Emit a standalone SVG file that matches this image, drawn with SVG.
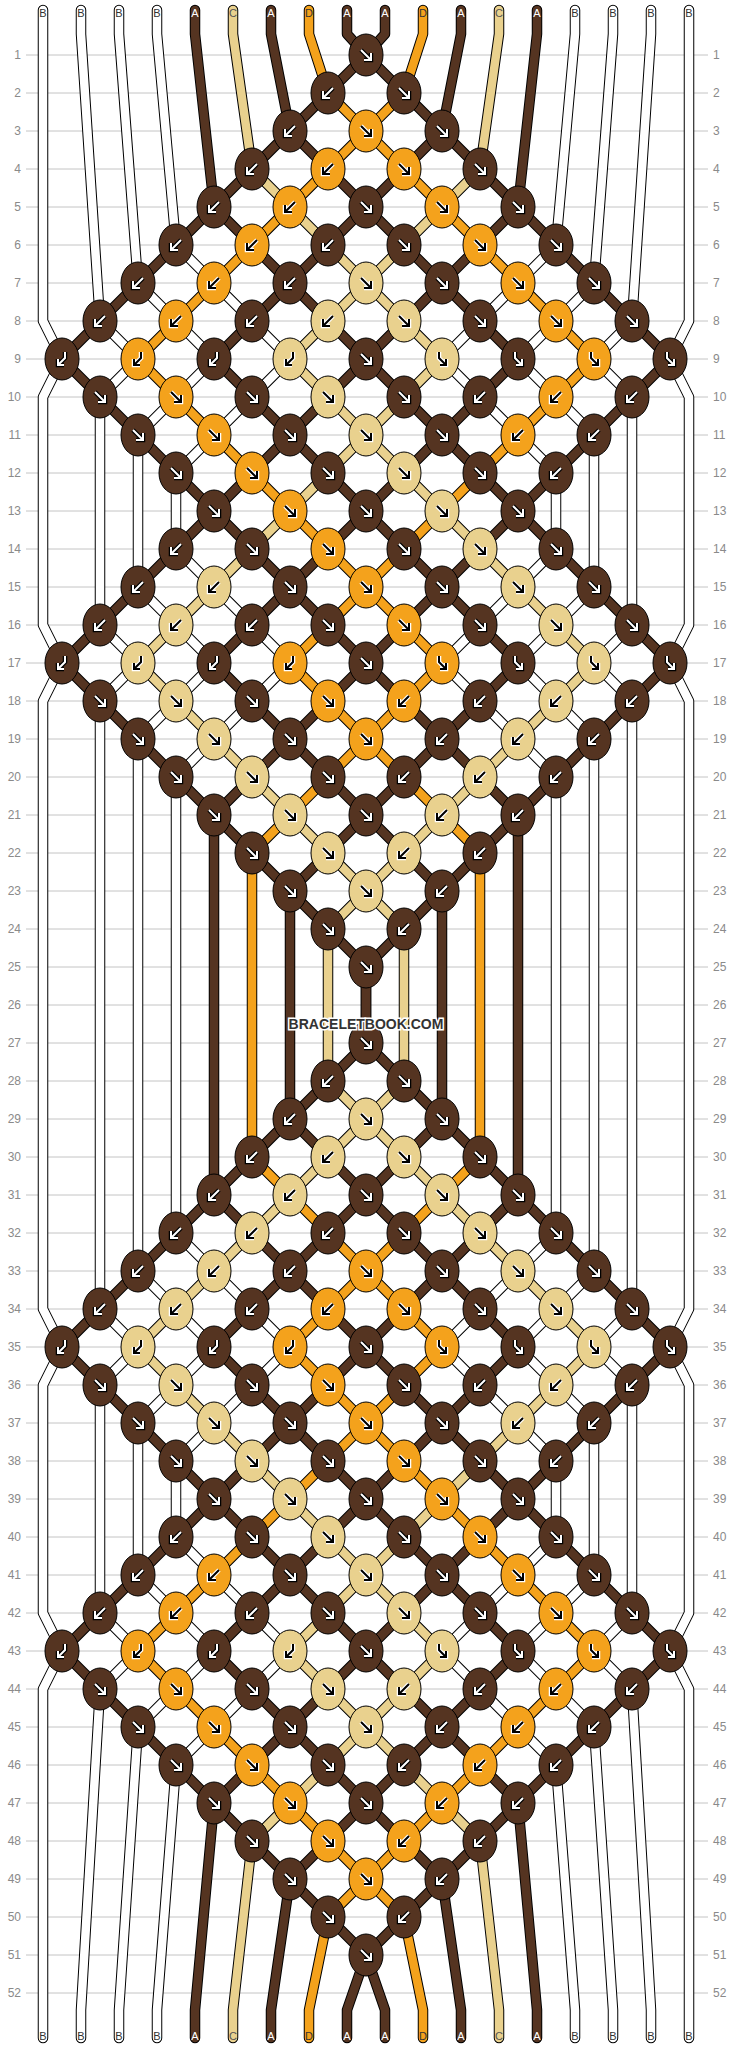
<svg xmlns="http://www.w3.org/2000/svg" width="734" height="2048" viewBox="0 0 734 2048">
<style>
.bg{fill:#fff}
.grid{stroke:#c4c4c4;stroke-width:1;fill:none}
.rl{font-family:"Liberation Sans",Arial,sans-serif;font-size:12px;fill:#8a8a8a}
.o{stroke:#000;stroke-width:10.5;fill:none}
.cA{stroke:#553421;stroke-width:8.5;fill:none}
.cB{stroke:#fff;stroke-width:8.5;fill:none}
.cC{stroke:#e9d18e;stroke-width:8.5;fill:none}
.cD{stroke:#f4a21c;stroke-width:8.5;fill:none}
.kA{fill:#553421;stroke:#000;stroke-width:1}
.kC{fill:#e9d18e;stroke:#000;stroke-width:1}
.kD{fill:#f4a21c;stroke:#000;stroke-width:1}
.od{fill:none;stroke:#000;stroke-width:4.5}
.id{fill:none;stroke:#fff;stroke-width:2}
.ol{fill:none;stroke:#fff;stroke-width:4.5}
.il{fill:none;stroke:#000;stroke-width:2}
.lb{font-family:"Liberation Sans",Arial,sans-serif;font-size:11px;text-anchor:middle}
.lA{fill:#fff}.lB{fill:#333}.lC{fill:#555}.lD{fill:#333}
.wm{font-family:"Liberation Sans",Arial,sans-serif;font-size:14px;font-weight:bold;fill:#333;stroke:#fff;stroke-width:3;paint-order:stroke;text-anchor:middle}
</style>
<defs>
<path id="pF" d="M-5-5L4 4M-2 5H5V-2"/>
<path id="pB" d="M5-5L-4 4M2 5H-5V-2"/>
<path id="pL" d="M3-7V-1L-4 6M-4 0V6H2"/>
<path id="pR" d="M-3-7V-1L4 6M4 0V6H-2"/>
<g id="AF"><ellipse class="kA" rx="17" ry="21"/><use href="#pF" class="od"/><use href="#pF" class="id"/></g>
<g id="AB"><ellipse class="kA" rx="17" ry="21"/><use href="#pB" class="od"/><use href="#pB" class="id"/></g>
<g id="AL"><ellipse class="kA" rx="17" ry="21"/><use href="#pL" class="od"/><use href="#pL" class="id"/></g>
<g id="AR"><ellipse class="kA" rx="17" ry="21"/><use href="#pR" class="od"/><use href="#pR" class="id"/></g>
<g id="CF"><ellipse class="kC" rx="17" ry="21"/><use href="#pF" class="ol"/><use href="#pF" class="il"/></g>
<g id="CB"><ellipse class="kC" rx="17" ry="21"/><use href="#pB" class="ol"/><use href="#pB" class="il"/></g>
<g id="CL"><ellipse class="kC" rx="17" ry="21"/><use href="#pL" class="ol"/><use href="#pL" class="il"/></g>
<g id="CR"><ellipse class="kC" rx="17" ry="21"/><use href="#pR" class="ol"/><use href="#pR" class="il"/></g>
<g id="DF"><ellipse class="kD" rx="17" ry="21"/><use href="#pF" class="ol"/><use href="#pF" class="il"/></g>
<g id="DB"><ellipse class="kD" rx="17" ry="21"/><use href="#pB" class="ol"/><use href="#pB" class="il"/></g>
<g id="DL"><ellipse class="kD" rx="17" ry="21"/><use href="#pL" class="ol"/><use href="#pL" class="il"/></g>
<g id="DR"><ellipse class="kD" rx="17" ry="21"/><use href="#pR" class="ol"/><use href="#pR" class="il"/></g>
<path id="s0" d="M43 10V321L62 359L43 397V625L62 663L43 701V1309L62 1347L43 1385V1613L62 1651L43 1689V2038"/>
<path id="s1" d="M81 10V34L100 321L138 359L100 397V625L138 663L100 701V1309L138 1347L100 1385V1613L138 1651L100 1689L81 2010V2038"/>
<path id="s2" d="M119 10V34L138 283L214 359L138 435V587L214 663L138 739V1271L214 1347L138 1423V1575L214 1651L138 1727L119 2010V2038"/>
<path id="s3" d="M157 10V34L176 245L290 359L176 473V549L290 663L176 777V1233L290 1347L176 1461V1537L290 1651L176 1765L157 2010V2038"/>
<path id="s4" d="M195 10V34L214 207L670 663L366 967V1043L670 1347L214 1803L195 2010V2038"/>
<path id="s5" d="M233 10V34L252 169L442 359L138 663L404 929V1081L138 1347L442 1651L252 1841L233 2010V2038"/>
<path id="s6" d="M271 10V34L290 131L518 359L214 663L442 891V1119L214 1347L518 1651L290 1879L271 2010V2038"/>
<path id="s7" d="M309 10V34L328 93L594 359L290 663L480 853V1157L290 1347L594 1651L328 1917L309 2010V2038"/>
<path id="s8" d="M347 10V34L366 55L670 359L214 815V1195L670 1651L366 1955L347 2010V2038"/>
<path id="s9" d="M385 10V34L366 55L62 359L518 815V1195L62 1651L366 1955L385 2010V2038"/>
<path id="s10" d="M423 10V34L404 93L138 359L442 663L252 853V1157L442 1347L138 1651L404 1917L423 2010V2038"/>
<path id="s11" d="M461 10V34L442 131L214 359L518 663L290 891V1119L518 1347L214 1651L442 1879L461 2010V2038"/>
<path id="s12" d="M499 10V34L480 169L290 359L594 663L328 929V1081L594 1347L290 1651L480 1841L499 2010V2038"/>
<path id="s13" d="M537 10V34L518 207L62 663L366 967V1043L62 1347L518 1803L537 2010V2038"/>
<path id="s14" d="M575 10V34L556 245L442 359L556 473V549L442 663L556 777V1233L442 1347L556 1461V1537L442 1651L556 1765L575 2010V2038"/>
<path id="s15" d="M613 10V34L594 283L518 359L594 435V587L518 663L594 739V1271L518 1347L594 1423V1575L518 1651L594 1727L613 2010V2038"/>
<path id="s16" d="M651 10V34L632 321L594 359L632 397V625L594 663L632 701V1309L594 1347L632 1385V1613L594 1651L632 1689L651 2010V2038"/>
<path id="s17" d="M689 10V321L670 359L689 397V625L670 663L689 701V1309L670 1347L689 1385V1613L670 1651L689 1689V2038"/>
</defs>
<rect class="bg" width="734" height="2048"/>
<path class="grid" d="M26 55H708M26 93H708M26 131H708M26 169H708M26 207H708M26 245H708M26 283H708M26 321H708M26 359H708M26 397H708M26 435H708M26 473H708M26 511H708M26 549H708M26 587H708M26 625H708M26 663H708M26 701H708M26 739H708M26 777H708M26 815H708M26 853H708M26 891H708M26 929H708M26 967H708M26 1005H708M26 1043H708M26 1081H708M26 1119H708M26 1157H708M26 1195H708M26 1233H708M26 1271H708M26 1309H708M26 1347H708M26 1385H708M26 1423H708M26 1461H708M26 1499H708M26 1537H708M26 1575H708M26 1613H708M26 1651H708M26 1689H708M26 1727H708M26 1765H708M26 1803H708M26 1841H708M26 1879H708M26 1917H708M26 1955H708M26 1993H708"/>
<g id="row-labels-left" class="rl" text-anchor="end">
<text x="21" y="59">1</text><text x="21" y="97">2</text><text x="21" y="135">3</text><text x="21" y="173">4</text><text x="21" y="211">5</text><text x="21" y="249">6</text><text x="21" y="287">7</text><text x="21" y="325">8</text><text x="21" y="363">9</text><text x="21" y="401">10</text><text x="21" y="439">11</text><text x="21" y="477">12</text><text x="21" y="515">13</text><text x="21" y="553">14</text><text x="21" y="591">15</text><text x="21" y="629">16</text><text x="21" y="667">17</text><text x="21" y="705">18</text><text x="21" y="743">19</text><text x="21" y="781">20</text><text x="21" y="819">21</text><text x="21" y="857">22</text><text x="21" y="895">23</text><text x="21" y="933">24</text><text x="21" y="971">25</text><text x="21" y="1009">26</text><text x="21" y="1047">27</text><text x="21" y="1085">28</text><text x="21" y="1123">29</text><text x="21" y="1161">30</text><text x="21" y="1199">31</text><text x="21" y="1237">32</text><text x="21" y="1275">33</text><text x="21" y="1313">34</text><text x="21" y="1351">35</text><text x="21" y="1389">36</text><text x="21" y="1427">37</text><text x="21" y="1465">38</text><text x="21" y="1503">39</text><text x="21" y="1541">40</text><text x="21" y="1579">41</text><text x="21" y="1617">42</text><text x="21" y="1655">43</text><text x="21" y="1693">44</text><text x="21" y="1731">45</text><text x="21" y="1769">46</text><text x="21" y="1807">47</text><text x="21" y="1845">48</text><text x="21" y="1883">49</text><text x="21" y="1921">50</text><text x="21" y="1959">51</text><text x="21" y="1997">52</text>
</g>
<g id="row-labels-right" class="rl" text-anchor="start">
<text x="713" y="59">1</text><text x="713" y="97">2</text><text x="713" y="135">3</text><text x="713" y="173">4</text><text x="713" y="211">5</text><text x="713" y="249">6</text><text x="713" y="287">7</text><text x="713" y="325">8</text><text x="713" y="363">9</text><text x="713" y="401">10</text><text x="713" y="439">11</text><text x="713" y="477">12</text><text x="713" y="515">13</text><text x="713" y="553">14</text><text x="713" y="591">15</text><text x="713" y="629">16</text><text x="713" y="667">17</text><text x="713" y="705">18</text><text x="713" y="743">19</text><text x="713" y="781">20</text><text x="713" y="819">21</text><text x="713" y="857">22</text><text x="713" y="895">23</text><text x="713" y="933">24</text><text x="713" y="971">25</text><text x="713" y="1009">26</text><text x="713" y="1047">27</text><text x="713" y="1085">28</text><text x="713" y="1123">29</text><text x="713" y="1161">30</text><text x="713" y="1199">31</text><text x="713" y="1237">32</text><text x="713" y="1275">33</text><text x="713" y="1313">34</text><text x="713" y="1351">35</text><text x="713" y="1389">36</text><text x="713" y="1427">37</text><text x="713" y="1465">38</text><text x="713" y="1503">39</text><text x="713" y="1541">40</text><text x="713" y="1579">41</text><text x="713" y="1617">42</text><text x="713" y="1655">43</text><text x="713" y="1693">44</text><text x="713" y="1731">45</text><text x="713" y="1769">46</text><text x="713" y="1807">47</text><text x="713" y="1845">48</text><text x="713" y="1883">49</text><text x="713" y="1921">50</text><text x="713" y="1959">51</text><text x="713" y="1997">52</text>
</g>
<g id="connectors" stroke-linejoin="round" stroke-linecap="round">
<use href="#s0" class="o"/><use href="#s1" class="o"/><use href="#s2" class="o"/><use href="#s3" class="o"/><use href="#s4" class="o"/><use href="#s5" class="o"/><use href="#s6" class="o"/><use href="#s7" class="o"/><use href="#s8" class="o"/><use href="#s9" class="o"/><use href="#s10" class="o"/><use href="#s11" class="o"/><use href="#s12" class="o"/><use href="#s13" class="o"/><use href="#s14" class="o"/><use href="#s15" class="o"/><use href="#s16" class="o"/><use href="#s17" class="o"/>
<use href="#s0" class="cB"/><use href="#s1" class="cB"/><use href="#s2" class="cB"/><use href="#s3" class="cB"/><use href="#s4" class="cA"/><use href="#s5" class="cC"/><use href="#s6" class="cA"/><use href="#s7" class="cD"/><use href="#s8" class="cA"/><use href="#s9" class="cA"/><use href="#s10" class="cD"/><use href="#s11" class="cA"/><use href="#s12" class="cC"/><use href="#s13" class="cA"/><use href="#s14" class="cB"/><use href="#s15" class="cB"/><use href="#s16" class="cB"/><use href="#s17" class="cB"/>
</g>
<g id="string-labels" class="lb">
<text class="lB" x="43" y="17">B</text><text class="lB" x="81" y="17">B</text><text class="lB" x="119" y="17">B</text><text class="lB" x="157" y="17">B</text><text class="lA" x="195" y="17">A</text><text class="lC" x="233" y="17">C</text><text class="lA" x="271" y="17">A</text><text class="lD" x="309" y="17">D</text><text class="lA" x="347" y="17">A</text><text class="lA" x="385" y="17">A</text><text class="lD" x="423" y="17">D</text><text class="lA" x="461" y="17">A</text><text class="lC" x="499" y="17">C</text><text class="lA" x="537" y="17">A</text><text class="lB" x="575" y="17">B</text><text class="lB" x="613" y="17">B</text><text class="lB" x="651" y="17">B</text><text class="lB" x="689" y="17">B</text>
<text class="lB" x="43" y="2040">B</text><text class="lB" x="81" y="2040">B</text><text class="lB" x="119" y="2040">B</text><text class="lB" x="157" y="2040">B</text><text class="lA" x="195" y="2040">A</text><text class="lC" x="233" y="2040">C</text><text class="lA" x="271" y="2040">A</text><text class="lD" x="309" y="2040">D</text><text class="lA" x="347" y="2040">A</text><text class="lA" x="385" y="2040">A</text><text class="lD" x="423" y="2040">D</text><text class="lA" x="461" y="2040">A</text><text class="lC" x="499" y="2040">C</text><text class="lA" x="537" y="2040">A</text><text class="lB" x="575" y="2040">B</text><text class="lB" x="613" y="2040">B</text><text class="lB" x="651" y="2040">B</text><text class="lB" x="689" y="2040">B</text>
</g>
<g id="knots">
<g id="k1-8"><use href="#AF" x="366" y="55"/></g>
<g id="k2-7"><use href="#AB" x="328" y="93"/></g><g id="k2-9"><use href="#AF" x="404" y="93"/></g>
<g id="k3-6"><use href="#AB" x="290" y="131"/></g><g id="k3-8"><use href="#DF" x="366" y="131"/></g><g id="k3-10"><use href="#AF" x="442" y="131"/></g>
<g id="k4-5"><use href="#AB" x="252" y="169"/></g><g id="k4-7"><use href="#DB" x="328" y="169"/></g><g id="k4-9"><use href="#DF" x="404" y="169"/></g><g id="k4-11"><use href="#AF" x="480" y="169"/></g>
<g id="k5-4"><use href="#AB" x="214" y="207"/></g><g id="k5-6"><use href="#DB" x="290" y="207"/></g><g id="k5-8"><use href="#AF" x="366" y="207"/></g><g id="k5-10"><use href="#DF" x="442" y="207"/></g><g id="k5-12"><use href="#AF" x="518" y="207"/></g>
<g id="k6-3"><use href="#AB" x="176" y="245"/></g><g id="k6-5"><use href="#DB" x="252" y="245"/></g><g id="k6-7"><use href="#AB" x="328" y="245"/></g><g id="k6-9"><use href="#AF" x="404" y="245"/></g><g id="k6-11"><use href="#DF" x="480" y="245"/></g><g id="k6-13"><use href="#AF" x="556" y="245"/></g>
<g id="k7-2"><use href="#AB" x="138" y="283"/></g><g id="k7-4"><use href="#DB" x="214" y="283"/></g><g id="k7-6"><use href="#AB" x="290" y="283"/></g><g id="k7-8"><use href="#CF" x="366" y="283"/></g><g id="k7-10"><use href="#AF" x="442" y="283"/></g><g id="k7-12"><use href="#DF" x="518" y="283"/></g><g id="k7-14"><use href="#AF" x="594" y="283"/></g>
<g id="k8-1"><use href="#AB" x="100" y="321"/></g><g id="k8-3"><use href="#DB" x="176" y="321"/></g><g id="k8-5"><use href="#AB" x="252" y="321"/></g><g id="k8-7"><use href="#CB" x="328" y="321"/></g><g id="k8-9"><use href="#CF" x="404" y="321"/></g><g id="k8-11"><use href="#AF" x="480" y="321"/></g><g id="k8-13"><use href="#DF" x="556" y="321"/></g><g id="k8-15"><use href="#AF" x="632" y="321"/></g>
<g id="k9-0"><use href="#AL" x="62" y="359"/></g><g id="k9-2"><use href="#DL" x="138" y="359"/></g><g id="k9-4"><use href="#AL" x="214" y="359"/></g><g id="k9-6"><use href="#CL" x="290" y="359"/></g><g id="k9-8"><use href="#AF" x="366" y="359"/></g><g id="k9-10"><use href="#CR" x="442" y="359"/></g><g id="k9-12"><use href="#AR" x="518" y="359"/></g><g id="k9-14"><use href="#DR" x="594" y="359"/></g><g id="k9-16"><use href="#AR" x="670" y="359"/></g>
<g id="k10-1"><use href="#AF" x="100" y="397"/></g><g id="k10-3"><use href="#DF" x="176" y="397"/></g><g id="k10-5"><use href="#AF" x="252" y="397"/></g><g id="k10-7"><use href="#CF" x="328" y="397"/></g><g id="k10-9"><use href="#AF" x="404" y="397"/></g><g id="k10-11"><use href="#AB" x="480" y="397"/></g><g id="k10-13"><use href="#DB" x="556" y="397"/></g><g id="k10-15"><use href="#AB" x="632" y="397"/></g>
<g id="k11-2"><use href="#AF" x="138" y="435"/></g><g id="k11-4"><use href="#DF" x="214" y="435"/></g><g id="k11-6"><use href="#AF" x="290" y="435"/></g><g id="k11-8"><use href="#CF" x="366" y="435"/></g><g id="k11-10"><use href="#AF" x="442" y="435"/></g><g id="k11-12"><use href="#DB" x="518" y="435"/></g><g id="k11-14"><use href="#AB" x="594" y="435"/></g>
<g id="k12-3"><use href="#AF" x="176" y="473"/></g><g id="k12-5"><use href="#DF" x="252" y="473"/></g><g id="k12-7"><use href="#AF" x="328" y="473"/></g><g id="k12-9"><use href="#CF" x="404" y="473"/></g><g id="k12-11"><use href="#AF" x="480" y="473"/></g><g id="k12-13"><use href="#AB" x="556" y="473"/></g>
<g id="k13-4"><use href="#AF" x="214" y="511"/></g><g id="k13-6"><use href="#DF" x="290" y="511"/></g><g id="k13-8"><use href="#AF" x="366" y="511"/></g><g id="k13-10"><use href="#CF" x="442" y="511"/></g><g id="k13-12"><use href="#AF" x="518" y="511"/></g>
<g id="k14-3"><use href="#AB" x="176" y="549"/></g><g id="k14-5"><use href="#AF" x="252" y="549"/></g><g id="k14-7"><use href="#DF" x="328" y="549"/></g><g id="k14-9"><use href="#AF" x="404" y="549"/></g><g id="k14-11"><use href="#CF" x="480" y="549"/></g><g id="k14-13"><use href="#AF" x="556" y="549"/></g>
<g id="k15-2"><use href="#AB" x="138" y="587"/></g><g id="k15-4"><use href="#CB" x="214" y="587"/></g><g id="k15-6"><use href="#AF" x="290" y="587"/></g><g id="k15-8"><use href="#DF" x="366" y="587"/></g><g id="k15-10"><use href="#AF" x="442" y="587"/></g><g id="k15-12"><use href="#CF" x="518" y="587"/></g><g id="k15-14"><use href="#AF" x="594" y="587"/></g>
<g id="k16-1"><use href="#AB" x="100" y="625"/></g><g id="k16-3"><use href="#CB" x="176" y="625"/></g><g id="k16-5"><use href="#AB" x="252" y="625"/></g><g id="k16-7"><use href="#AF" x="328" y="625"/></g><g id="k16-9"><use href="#DF" x="404" y="625"/></g><g id="k16-11"><use href="#AF" x="480" y="625"/></g><g id="k16-13"><use href="#CF" x="556" y="625"/></g><g id="k16-15"><use href="#AF" x="632" y="625"/></g>
<g id="k17-0"><use href="#AL" x="62" y="663"/></g><g id="k17-2"><use href="#CL" x="138" y="663"/></g><g id="k17-4"><use href="#AL" x="214" y="663"/></g><g id="k17-6"><use href="#DL" x="290" y="663"/></g><g id="k17-8"><use href="#AF" x="366" y="663"/></g><g id="k17-10"><use href="#DR" x="442" y="663"/></g><g id="k17-12"><use href="#AR" x="518" y="663"/></g><g id="k17-14"><use href="#CR" x="594" y="663"/></g><g id="k17-16"><use href="#AR" x="670" y="663"/></g>
<g id="k18-1"><use href="#AF" x="100" y="701"/></g><g id="k18-3"><use href="#CF" x="176" y="701"/></g><g id="k18-5"><use href="#AF" x="252" y="701"/></g><g id="k18-7"><use href="#DF" x="328" y="701"/></g><g id="k18-9"><use href="#DB" x="404" y="701"/></g><g id="k18-11"><use href="#AB" x="480" y="701"/></g><g id="k18-13"><use href="#CB" x="556" y="701"/></g><g id="k18-15"><use href="#AB" x="632" y="701"/></g>
<g id="k19-2"><use href="#AF" x="138" y="739"/></g><g id="k19-4"><use href="#CF" x="214" y="739"/></g><g id="k19-6"><use href="#AF" x="290" y="739"/></g><g id="k19-8"><use href="#DF" x="366" y="739"/></g><g id="k19-10"><use href="#AB" x="442" y="739"/></g><g id="k19-12"><use href="#CB" x="518" y="739"/></g><g id="k19-14"><use href="#AB" x="594" y="739"/></g>
<g id="k20-3"><use href="#AF" x="176" y="777"/></g><g id="k20-5"><use href="#CF" x="252" y="777"/></g><g id="k20-7"><use href="#AF" x="328" y="777"/></g><g id="k20-9"><use href="#AB" x="404" y="777"/></g><g id="k20-11"><use href="#CB" x="480" y="777"/></g><g id="k20-13"><use href="#AB" x="556" y="777"/></g>
<g id="k21-4"><use href="#AF" x="214" y="815"/></g><g id="k21-6"><use href="#CF" x="290" y="815"/></g><g id="k21-8"><use href="#AF" x="366" y="815"/></g><g id="k21-10"><use href="#CB" x="442" y="815"/></g><g id="k21-12"><use href="#AB" x="518" y="815"/></g>
<g id="k22-5"><use href="#AF" x="252" y="853"/></g><g id="k22-7"><use href="#CF" x="328" y="853"/></g><g id="k22-9"><use href="#CB" x="404" y="853"/></g><g id="k22-11"><use href="#AB" x="480" y="853"/></g>
<g id="k23-6"><use href="#AF" x="290" y="891"/></g><g id="k23-8"><use href="#CF" x="366" y="891"/></g><g id="k23-10"><use href="#AB" x="442" y="891"/></g>
<g id="k24-7"><use href="#AF" x="328" y="929"/></g><g id="k24-9"><use href="#AB" x="404" y="929"/></g>
<g id="k25-8"><use href="#AF" x="366" y="967"/></g>
<g id="k27-8"><use href="#AF" x="366" y="1043"/></g>
<g id="k28-7"><use href="#AB" x="328" y="1081"/></g><g id="k28-9"><use href="#AF" x="404" y="1081"/></g>
<g id="k29-6"><use href="#AB" x="290" y="1119"/></g><g id="k29-8"><use href="#CF" x="366" y="1119"/></g><g id="k29-10"><use href="#AF" x="442" y="1119"/></g>
<g id="k30-5"><use href="#AB" x="252" y="1157"/></g><g id="k30-7"><use href="#CB" x="328" y="1157"/></g><g id="k30-9"><use href="#CF" x="404" y="1157"/></g><g id="k30-11"><use href="#AF" x="480" y="1157"/></g>
<g id="k31-4"><use href="#AB" x="214" y="1195"/></g><g id="k31-6"><use href="#CB" x="290" y="1195"/></g><g id="k31-8"><use href="#AF" x="366" y="1195"/></g><g id="k31-10"><use href="#CF" x="442" y="1195"/></g><g id="k31-12"><use href="#AF" x="518" y="1195"/></g>
<g id="k32-3"><use href="#AB" x="176" y="1233"/></g><g id="k32-5"><use href="#CB" x="252" y="1233"/></g><g id="k32-7"><use href="#AB" x="328" y="1233"/></g><g id="k32-9"><use href="#AF" x="404" y="1233"/></g><g id="k32-11"><use href="#CF" x="480" y="1233"/></g><g id="k32-13"><use href="#AF" x="556" y="1233"/></g>
<g id="k33-2"><use href="#AB" x="138" y="1271"/></g><g id="k33-4"><use href="#CB" x="214" y="1271"/></g><g id="k33-6"><use href="#AB" x="290" y="1271"/></g><g id="k33-8"><use href="#DF" x="366" y="1271"/></g><g id="k33-10"><use href="#AF" x="442" y="1271"/></g><g id="k33-12"><use href="#CF" x="518" y="1271"/></g><g id="k33-14"><use href="#AF" x="594" y="1271"/></g>
<g id="k34-1"><use href="#AB" x="100" y="1309"/></g><g id="k34-3"><use href="#CB" x="176" y="1309"/></g><g id="k34-5"><use href="#AB" x="252" y="1309"/></g><g id="k34-7"><use href="#DB" x="328" y="1309"/></g><g id="k34-9"><use href="#DF" x="404" y="1309"/></g><g id="k34-11"><use href="#AF" x="480" y="1309"/></g><g id="k34-13"><use href="#CF" x="556" y="1309"/></g><g id="k34-15"><use href="#AF" x="632" y="1309"/></g>
<g id="k35-0"><use href="#AL" x="62" y="1347"/></g><g id="k35-2"><use href="#CL" x="138" y="1347"/></g><g id="k35-4"><use href="#AL" x="214" y="1347"/></g><g id="k35-6"><use href="#DL" x="290" y="1347"/></g><g id="k35-8"><use href="#AF" x="366" y="1347"/></g><g id="k35-10"><use href="#DR" x="442" y="1347"/></g><g id="k35-12"><use href="#AR" x="518" y="1347"/></g><g id="k35-14"><use href="#CR" x="594" y="1347"/></g><g id="k35-16"><use href="#AR" x="670" y="1347"/></g>
<g id="k36-1"><use href="#AF" x="100" y="1385"/></g><g id="k36-3"><use href="#CF" x="176" y="1385"/></g><g id="k36-5"><use href="#AF" x="252" y="1385"/></g><g id="k36-7"><use href="#DF" x="328" y="1385"/></g><g id="k36-9"><use href="#AF" x="404" y="1385"/></g><g id="k36-11"><use href="#AB" x="480" y="1385"/></g><g id="k36-13"><use href="#CB" x="556" y="1385"/></g><g id="k36-15"><use href="#AB" x="632" y="1385"/></g>
<g id="k37-2"><use href="#AF" x="138" y="1423"/></g><g id="k37-4"><use href="#CF" x="214" y="1423"/></g><g id="k37-6"><use href="#AF" x="290" y="1423"/></g><g id="k37-8"><use href="#DF" x="366" y="1423"/></g><g id="k37-10"><use href="#AF" x="442" y="1423"/></g><g id="k37-12"><use href="#CB" x="518" y="1423"/></g><g id="k37-14"><use href="#AB" x="594" y="1423"/></g>
<g id="k38-3"><use href="#AF" x="176" y="1461"/></g><g id="k38-5"><use href="#CF" x="252" y="1461"/></g><g id="k38-7"><use href="#AF" x="328" y="1461"/></g><g id="k38-9"><use href="#DF" x="404" y="1461"/></g><g id="k38-11"><use href="#AF" x="480" y="1461"/></g><g id="k38-13"><use href="#AB" x="556" y="1461"/></g>
<g id="k39-4"><use href="#AF" x="214" y="1499"/></g><g id="k39-6"><use href="#CF" x="290" y="1499"/></g><g id="k39-8"><use href="#AF" x="366" y="1499"/></g><g id="k39-10"><use href="#DF" x="442" y="1499"/></g><g id="k39-12"><use href="#AF" x="518" y="1499"/></g>
<g id="k40-3"><use href="#AB" x="176" y="1537"/></g><g id="k40-5"><use href="#AF" x="252" y="1537"/></g><g id="k40-7"><use href="#CF" x="328" y="1537"/></g><g id="k40-9"><use href="#AF" x="404" y="1537"/></g><g id="k40-11"><use href="#DF" x="480" y="1537"/></g><g id="k40-13"><use href="#AF" x="556" y="1537"/></g>
<g id="k41-2"><use href="#AB" x="138" y="1575"/></g><g id="k41-4"><use href="#DB" x="214" y="1575"/></g><g id="k41-6"><use href="#AF" x="290" y="1575"/></g><g id="k41-8"><use href="#CF" x="366" y="1575"/></g><g id="k41-10"><use href="#AF" x="442" y="1575"/></g><g id="k41-12"><use href="#DF" x="518" y="1575"/></g><g id="k41-14"><use href="#AF" x="594" y="1575"/></g>
<g id="k42-1"><use href="#AB" x="100" y="1613"/></g><g id="k42-3"><use href="#DB" x="176" y="1613"/></g><g id="k42-5"><use href="#AB" x="252" y="1613"/></g><g id="k42-7"><use href="#AF" x="328" y="1613"/></g><g id="k42-9"><use href="#CF" x="404" y="1613"/></g><g id="k42-11"><use href="#AF" x="480" y="1613"/></g><g id="k42-13"><use href="#DF" x="556" y="1613"/></g><g id="k42-15"><use href="#AF" x="632" y="1613"/></g>
<g id="k43-0"><use href="#AL" x="62" y="1651"/></g><g id="k43-2"><use href="#DL" x="138" y="1651"/></g><g id="k43-4"><use href="#AL" x="214" y="1651"/></g><g id="k43-6"><use href="#CL" x="290" y="1651"/></g><g id="k43-8"><use href="#AF" x="366" y="1651"/></g><g id="k43-10"><use href="#CR" x="442" y="1651"/></g><g id="k43-12"><use href="#AR" x="518" y="1651"/></g><g id="k43-14"><use href="#DR" x="594" y="1651"/></g><g id="k43-16"><use href="#AR" x="670" y="1651"/></g>
<g id="k44-1"><use href="#AF" x="100" y="1689"/></g><g id="k44-3"><use href="#DF" x="176" y="1689"/></g><g id="k44-5"><use href="#AF" x="252" y="1689"/></g><g id="k44-7"><use href="#CF" x="328" y="1689"/></g><g id="k44-9"><use href="#CB" x="404" y="1689"/></g><g id="k44-11"><use href="#AB" x="480" y="1689"/></g><g id="k44-13"><use href="#DB" x="556" y="1689"/></g><g id="k44-15"><use href="#AB" x="632" y="1689"/></g>
<g id="k45-2"><use href="#AF" x="138" y="1727"/></g><g id="k45-4"><use href="#DF" x="214" y="1727"/></g><g id="k45-6"><use href="#AF" x="290" y="1727"/></g><g id="k45-8"><use href="#CF" x="366" y="1727"/></g><g id="k45-10"><use href="#AB" x="442" y="1727"/></g><g id="k45-12"><use href="#DB" x="518" y="1727"/></g><g id="k45-14"><use href="#AB" x="594" y="1727"/></g>
<g id="k46-3"><use href="#AF" x="176" y="1765"/></g><g id="k46-5"><use href="#DF" x="252" y="1765"/></g><g id="k46-7"><use href="#AF" x="328" y="1765"/></g><g id="k46-9"><use href="#AB" x="404" y="1765"/></g><g id="k46-11"><use href="#DB" x="480" y="1765"/></g><g id="k46-13"><use href="#AB" x="556" y="1765"/></g>
<g id="k47-4"><use href="#AF" x="214" y="1803"/></g><g id="k47-6"><use href="#DF" x="290" y="1803"/></g><g id="k47-8"><use href="#AF" x="366" y="1803"/></g><g id="k47-10"><use href="#DB" x="442" y="1803"/></g><g id="k47-12"><use href="#AB" x="518" y="1803"/></g>
<g id="k48-5"><use href="#AF" x="252" y="1841"/></g><g id="k48-7"><use href="#DF" x="328" y="1841"/></g><g id="k48-9"><use href="#DB" x="404" y="1841"/></g><g id="k48-11"><use href="#AB" x="480" y="1841"/></g>
<g id="k49-6"><use href="#AF" x="290" y="1879"/></g><g id="k49-8"><use href="#DF" x="366" y="1879"/></g><g id="k49-10"><use href="#AB" x="442" y="1879"/></g>
<g id="k50-7"><use href="#AF" x="328" y="1917"/></g><g id="k50-9"><use href="#AB" x="404" y="1917"/></g>
<g id="k51-8"><use href="#AF" x="366" y="1955"/></g>
</g>
<text class="wm" x="366" y="1029">BRACELETBOOK.COM</text>
</svg>
